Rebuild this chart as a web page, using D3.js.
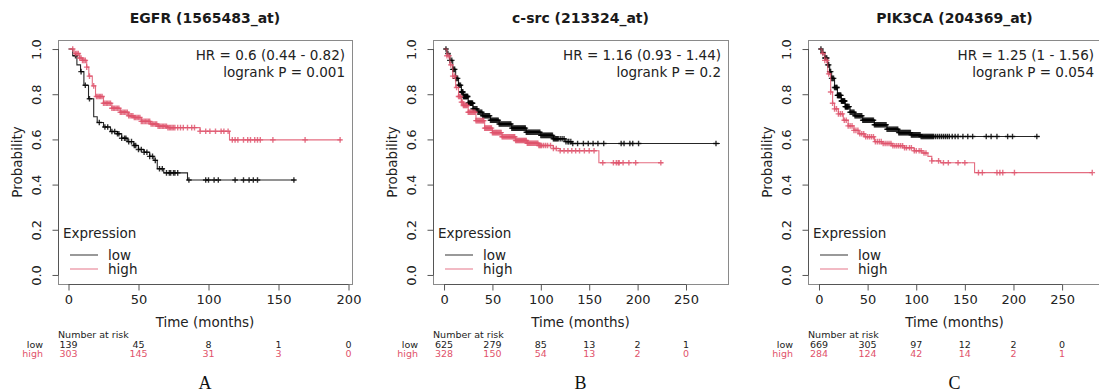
<!DOCTYPE html>
<html>
<head>
<meta charset="utf-8">
<script src="https://cdn.jsdelivr.net/npm/d3@7"></script>
<style>
  body { margin: 0; background: #fff; }
  svg { display: block; font-family: "DejaVu Sans", sans-serif; }
</style>
</head>
<body>
<div id="chart"></div>
<script>
// ---- data ----
const titles = ["EGFR (1565483_at)", "c-src (213324_at)", "PIK3CA (204369_at)"];
const hrTexts = ["HR = 0.6 (0.44 - 0.82)", "HR = 1.16 (0.93 - 1.44)", "HR = 1.25 (1 - 1.56)"];
const pTexts = ["logrank P = 0.001", "logrank P = 0.2", "logrank P = 0.054"];
const panelLetters = ["A", "B", "C"];
const yTicks = [0, 0.2, 0.4, 0.6, 0.8, 1.0];
const xTicksA = [0, 50, 100, 150, 200];
const xTicksBC = [0, 50, 100, 150, 200, 250];

// EGFR
const egfrLow = [[0,1],[3,0.97],[6,0.93],[8.6,0.9],[11,0.84],[14.3,0.78],[18,0.7],[20.5,0.675],[25,0.655],[30,0.635],[35,0.625],[38,0.605],[42,0.59],[46.6,0.573],[50,0.555],[54,0.543],[58,0.525],[61,0.507],[63.4,0.47],[68,0.452],[85,0.42],[162,0.42]];
const egfrHigh = [[0,1],[4,0.98],[8,0.96],[10,0.95],[13,0.92],[14.5,0.88],[17,0.837],[19.3,0.79],[25,0.76],[31,0.738],[37,0.72],[43,0.705],[46.6,0.697],[52,0.68],[58.6,0.668],[64,0.658],[70.7,0.652],[94,0.636],[115,0.598],[195,0.598]];
const egfrLowCens = [5,9,12,15,22,26,28,31,33,35,36,38,40,41,43,45,47,48,50,52,54,56,58,60,62,65,67,70,72,73,75,76,78,86,98,100,104,107,119,125,129,132,135,161];
const egfrHighCens = [3,5,6,7,8,9,10,11,12,13,15,18,20,21,22,23,24,25,26,27,28,29,30,31,32,33,34,35,36,37,38,39,40,41,42,43,44,45,46,47,48,49,50,51,52,53,54,55,56,57,58,59,60,61,62,63,64,65,66,67,68,69,70,71,72,73,74,75,76,78,80,82,85,88,90,94,98,101,105,109,111,114,117,119,121,125,128,130,133,135,137,146,169,194];

// c-src
const srcLow = [[0,1],[3,0.98],[6,0.95],[9,0.91],[12,0.87],[15,0.84],[18,0.81],[20,0.79],[25,0.76],[30,0.735],[35,0.72],[40,0.705],[48,0.685],[57,0.668],[70,0.65],[85,0.632],[100,0.618],[113,0.603],[125,0.59],[132,0.582],[285,0.582]];
const srcHigh = [[0,1],[3,0.97],[6,0.93],[9,0.88],[12,0.83],[15,0.79],[18,0.765],[20,0.75],[25,0.72],[33,0.683],[42,0.65],[50,0.63],[60,0.612],[74,0.595],[86,0.583],[98,0.573],[113,0.56],[120,0.55],[160,0.497],[226,0.497]];
const srcLowCens = [2,4,6,8,9,10,11,12,13,14,15,16,17,18,18.5,19,19.5,20,20.5,21,21.5,22,22.5,23,23.5,24,24.5,25,25.5,26,26.5,27,27.5,28,28.5,29,29.5,30,31,32,33,34,35,36,37,38,39,40,41,42,43,44,45,46,47,48,49,50,51,52,53,54,55,56,57,58,59,60,61,62,63,64,65,66,67,68,69,70,71,72,73,74,75,76,77,78,79,80,81,82,83,84,85,86,87,88,89,90,91,92,93,94,95,96,97,98,99,100,101,102,103,104,105,106,107,108,109,110,111,112,113,114,115,116,117,118,120,122,124,126,128,129,131,133,138,144,149,154,159,165,183,186,192,195,201,281];
const srcHighCens = [3,5,7,9,11,13,15,16,17,18,19,20,21,22,23,24,25,26,27,28,29,30,31,32,33,34,35,36,37,38,39,40,41,42,43,44,45,46,47,48,49,50,51,52,53,54,55,56,57,58,59,60,61,62,63,64,65,66,67,68,69,70,71,72,73,74,75,76,77,78,79,80,81,82,83,84,85,86,87,88,89,90,91,92,93,94,95,96,97,98,99,100,101,103,105,107,110,113,116,120,124,128,132,136,140,145,150,155,164,175,178,180,181,185,191,198,224];

// PIK3CA
const pikLow = [[0,1],[3,0.985],[6,0.96],[9,0.93],[11,0.9],[13,0.87],[16,0.83],[19,0.795],[23,0.77],[27,0.745],[32,0.72],[37,0.705],[45,0.685],[57,0.665],[70,0.645],[82,0.63],[95,0.62],[105,0.613],[227,0.613]];
const pikHigh = [[0,1],[3,0.98],[6,0.95],[9,0.89],[12,0.81],[14,0.76],[16,0.735],[20,0.713],[25,0.685],[30,0.66],[36,0.64],[41,0.625],[47,0.612],[57,0.59],[65,0.582],[75,0.572],[88,0.563],[98,0.55],[106,0.54],[112,0.525],[116,0.505],[125,0.497],[160,0.453],[281,0.453]];
const pikLowCens = [2,4,6,7,8,9,10,11,12,13,14,15,16,17,18,18.5,19,19.5,20,20.5,21,21.5,22,22.5,23,23.5,24,24.5,25,25.5,26,26.5,27,27.5,28,28.5,29,29.5,30,31,32,33,34,35,36,37,38,39,40,41,42,43,44,45,46,47,48,49,50,51,52,53,54,55,56,57,58,59,60,61,62,63,64,65,66,67,68,69,70,71,72,73,74,75,76,77,78,79,80,81,82,83,84,85,86,87,88,89,90,91,92,93,94,95,96,97,98,99,100,101,102,103,104,105,106,107,108,109,110,111,112,113,114,115,116,117,118,120,122,124,126,128,130,132,134,137,140,143,148,153,158,172,177,183,194,199,224];
const pikHighCens = [4,6,8,10,12,14,16,18,20,22,24,26,28,30,32,34,36,38,40,42,44,46,48,50,52,54,56,58,60,62,64,66,68,70,72,74,76,78,80,82,84,86,88,90,93,95,98,100,103,105,108,110,116,123,128,133,143,150,164,168,183,186,189,201,281];

// number at risk
const riskLowA = [139, 45, 8, 1, 0];
const riskHighA = [303, 145, 31, 3, 0];
const riskLowB = [625, 279, 85, 13, 2, 1];
const riskHighB = [328, 150, 54, 13, 2, 0];
const riskLowC = [669, 305, 97, 12, 2, 0];
const riskHighC = [284, 124, 42, 14, 2, 1];

const lowColor = "#000000";
const highColor = "#DF536B";

const panels = [
  { left: 58, right: 352, xDomain: [-7.5, 202.5], xTicks: xTicksA,
    low: egfrLow, high: egfrHigh, lowCens: egfrLowCens, highCens: egfrHighCens,
    riskLow: riskLowA, riskHigh: riskHighA },
  { left: 433, right: 728, xDomain: [-11.4, 293.4], xTicks: xTicksBC,
    low: srcLow, high: srcHigh, lowCens: srcLowCens, highCens: srcHighCens,
    riskLow: riskLowB, riskHigh: riskHighB },
  { left: 808, right: 1101, xDomain: [-11.3, 290], xTicks: xTicksBC,
    low: pikLow, high: pikHigh, lowCens: pikLowCens, highCens: pikHighCens,
    riskLow: riskLowC, riskHigh: riskHighC }
];

const W = 1099, H = 392;
const boxTop = 40, boxBottom = 284;

const svg = d3.select("#chart").append("svg")
  .attr("width", W).attr("height", H);

// survival value at time t from step points
function survAt(pts, t) {
  let v = pts[0][1];
  for (const p of pts) { if (p[0] <= t) v = p[1]; else break; }
  return v;
}

panels.forEach((p, i) => {
  const x = d3.scaleLinear().domain(p.xDomain).range([p.left, p.right]);
  const y = d3.scaleLinear().domain([-0.04, 1.04]).range([boxBottom, boxTop]);
  const g = svg.append("g");
  const cx = (p.left + p.right) / 2;

  // title
  g.append("text").attr("x", cx).attr("y", 23)
    .attr("text-anchor", "middle").attr("font-weight", "bold")
    .attr("font-size", 14).attr("fill", "#1a1a1a").text(titles[i]);

  // box
  g.append("rect").attr("x", p.left + 0.5).attr("y", boxTop + 0.5)
    .attr("width", p.right - p.left).attr("height", boxBottom - boxTop)
    .attr("fill", "none").attr("stroke", "#8a8a8a");

  // y axis
  const ya = g.append("g").attr("transform", `translate(${p.left + 0.5},0)`)
    .call(d3.axisLeft(y).tickValues(yTicks).tickFormat(d3.format(".1f")).tickSize(6).tickSizeOuter(0));
  ya.attr("font-family", null);
  ya.select(".domain").attr("stroke", "#555").attr("d", `M0,${y(0)}V${y(1)}`);
  ya.selectAll(".tick line").attr("stroke", "#555");
  ya.selectAll(".tick text")
    .attr("font-size", 13).attr("fill", "#222")
    .attr("text-anchor", "middle")
    .attr("x", 0).attr("y", 0).attr("dy", "0.35em")
    .attr("transform", "translate(-22,0) rotate(-90)");

  g.append("text")
    .attr("transform", `translate(${p.left - 41},${(boxTop + boxBottom) / 2}) rotate(-90)`)
    .attr("text-anchor", "middle").attr("dy", "0.35em")
    .attr("font-size", 13.5).attr("fill", "#222").text("Probability");

  // x axis
  const xa = g.append("g").attr("transform", `translate(0,${boxBottom + 0.5})`)
    .call(d3.axisBottom(x).tickValues(p.xTicks).tickSize(6).tickSizeOuter(0));
  xa.attr("font-family", null);
  xa.select(".domain").attr("stroke", "#555")
    .attr("d", `M${x(p.xTicks[0])},0H${x(p.xTicks[p.xTicks.length - 1])}`);
  xa.selectAll(".tick line").attr("stroke", "#555");
  xa.selectAll(".tick text").attr("font-size", 13).attr("fill", "#222").attr("y", 10);

  g.append("text").attr("x", cx).attr("y", 327)
    .attr("text-anchor", "middle").attr("font-size", 13.5).attr("fill", "#222")
    .text("Time (months)");

  // curves
  const line = d3.line().x(d => x(d[0])).y(d => y(d[1])).curve(d3.curveStepAfter);
  const series = [
    { pts: p.low, cens: p.lowCens, color: lowColor, op: 0.85 },
    { pts: p.high, cens: p.highCens, color: highColor, op: 0.85 }
  ];
  series.forEach(s => {
    g.append("path").datum(s.pts).attr("d", line)
      .attr("fill", "none").attr("stroke", s.color).attr("stroke-width", 1.1)
      .attr("stroke-opacity", s.op);
    g.append("g").selectAll("path").data(s.cens).join("path")
      .attr("d", t => {
        const px = x(t), py = y(survAt(s.pts, t));
        return `M${px - 2.8},${py}H${px + 2.8}M${px},${py - 2.8}V${py + 2.8}`;
      })
      .attr("stroke", s.color).attr("stroke-width", 1.4).attr("stroke-opacity", 0.8);
  });

  // HR text
  g.append("text").attr("x", p.right - 7).attr("y", 60)
    .attr("text-anchor", "end").attr("font-size", 13.5).attr("fill", "#222").text(hrTexts[i]);
  g.append("text").attr("x", p.right - 7).attr("y", 77)
    .attr("text-anchor", "end").attr("font-size", 13.5).attr("fill", "#222").text(pTexts[i]);

  // legend
  const lx = p.left + 5;
  g.append("text").attr("x", lx).attr("y", 238).attr("font-size", 13.5).attr("fill", "#222").text("Expression");
  [["low", lowColor, 255], ["high", highColor, 269]].forEach(([lab, col, ly]) => {
    g.append("line").attr("x1", lx + 7).attr("x2", lx + 35).attr("y1", ly).attr("y2", ly)
      .attr("stroke", col).attr("stroke-opacity", 0.8);
    g.append("text").attr("x", lx + 45).attr("y", ly).attr("dy", "0.35em")
      .attr("font-size", 13.5).attr("fill", "#222").text(lab);
  });

  // number at risk table
  g.append("text").attr("x", p.left).attr("y", 338).attr("font-size", 9.5).attr("fill", "#222")
    .text("Number at risk");
  [["low", p.riskLow, "#222", 348], ["high", p.riskHigh, highColor, 357]].forEach(([lab, vals, col, ry]) => {
    g.append("text").attr("x", p.left - 15).attr("y", ry).attr("text-anchor", "end")
      .attr("font-size", 9.5).attr("fill", col).text(lab);
    g.append("g").selectAll("text").data(vals).join("text")
      .attr("x", (d, k) => x(p.xTicks[k])).attr("y", ry)
      .attr("text-anchor", "middle").attr("font-size", 9.5).attr("fill", col)
      .text(d => d);
  });

  // panel letter
  g.append("text").attr("x", cx).attr("y", 389).attr("text-anchor", "middle")
    .attr("font-family", "Liberation Serif, serif").attr("font-size", 18).attr("fill", "#111")
    .text(panelLetters[i]);
});
</script>
</body>
</html>
